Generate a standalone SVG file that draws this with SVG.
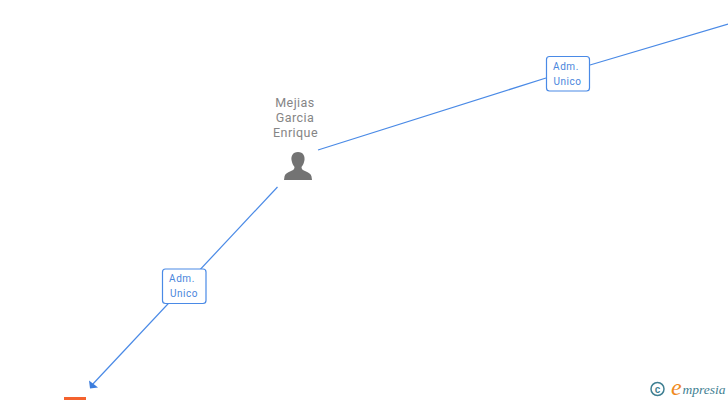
<svg xmlns="http://www.w3.org/2000/svg" width="728" height="400" viewBox="0 0 728 400">
<style>
.lbl{font-family:Roboto,"Liberation Sans",sans-serif;font-size:10px;fill:#4a86dc;text-anchor:middle;letter-spacing:.55px}
.box{fill:#fff;stroke:#4a8ae6;stroke-width:1.200}
.name{font-family:Roboto,"Liberation Sans",sans-serif;font-size:12.500px;fill:#858585;text-anchor:middle;letter-spacing:.45px}
.ln{fill:none;stroke:#4a8ae6;stroke-width:1.200}
</style>
<rect width="728" height="400" fill="#fff"/>
<g id="connectors">
<path class="ln" d="M318 150L546 78M590 65L728 24"/>
<path class="ln" d="M277.500 187L92 385"/>
<path d="M89 380.500L90 388.500L98 387.500Z" fill="#3b7ddd"/>
</g>
<g id="edge-label-1">
<rect class="box" x="546.500" y="56.500" width="43" height="34.500" rx="3"/>
<text class="lbl" x="566" y="70">Adm.</text>
<text class="lbl" x="567.500" y="85">Unico</text>
</g>
<g id="edge-label-2">
<rect class="box" x="162.500" y="269" width="43.500" height="34.500" rx="3"/>
<text class="lbl" x="182" y="282">Adm.</text>
<text class="lbl" x="184" y="297">Unico</text>
</g>
<g id="person">
<text class="name" x="295" y="107">Mejias</text>
<text class="name" x="295" y="122">Garcia</text>
<text class="name" x="295.500" y="137">Enrique</text>
<path d="M298 152C292.500 152 291 156.500 291.500 160C292 163 293 165 294.500 167C294.500 169 293.500 170 291 171C287 172.500 285 174 284.500 176.500L284 180H312L311.500 176.500C311 174 309 172.500 305 171C302.500 170 301.500 169 301.500 167C303 165 304 163 304.500 160C305 156.500 303.500 152 298 152Z" fill="#737373"/>
</g>
<g id="company">
<rect x="64" y="397" width="22" height="3" fill="#f4622e"/>
</g>
<g id="watermark">
<circle cx="657.500" cy="389" r="6.500" fill="none" stroke="#3f7f92" stroke-width="1.500"/>
<text x="657.500" y="392.500" font-family="'Liberation Sans',sans-serif" font-size="10" font-weight="bold" fill="#3f7f92" text-anchor="middle">c</text>
<text x="671" y="394.500" font-family="'Liberation Serif',serif" font-size="24" font-style="italic" fill="#f08a1d">e</text>
<text x="682.500" y="394" font-family="'Liberation Serif',serif" font-size="13.500" font-style="italic" fill="#3f7f92">mpresia</text>
</g>
</svg>
